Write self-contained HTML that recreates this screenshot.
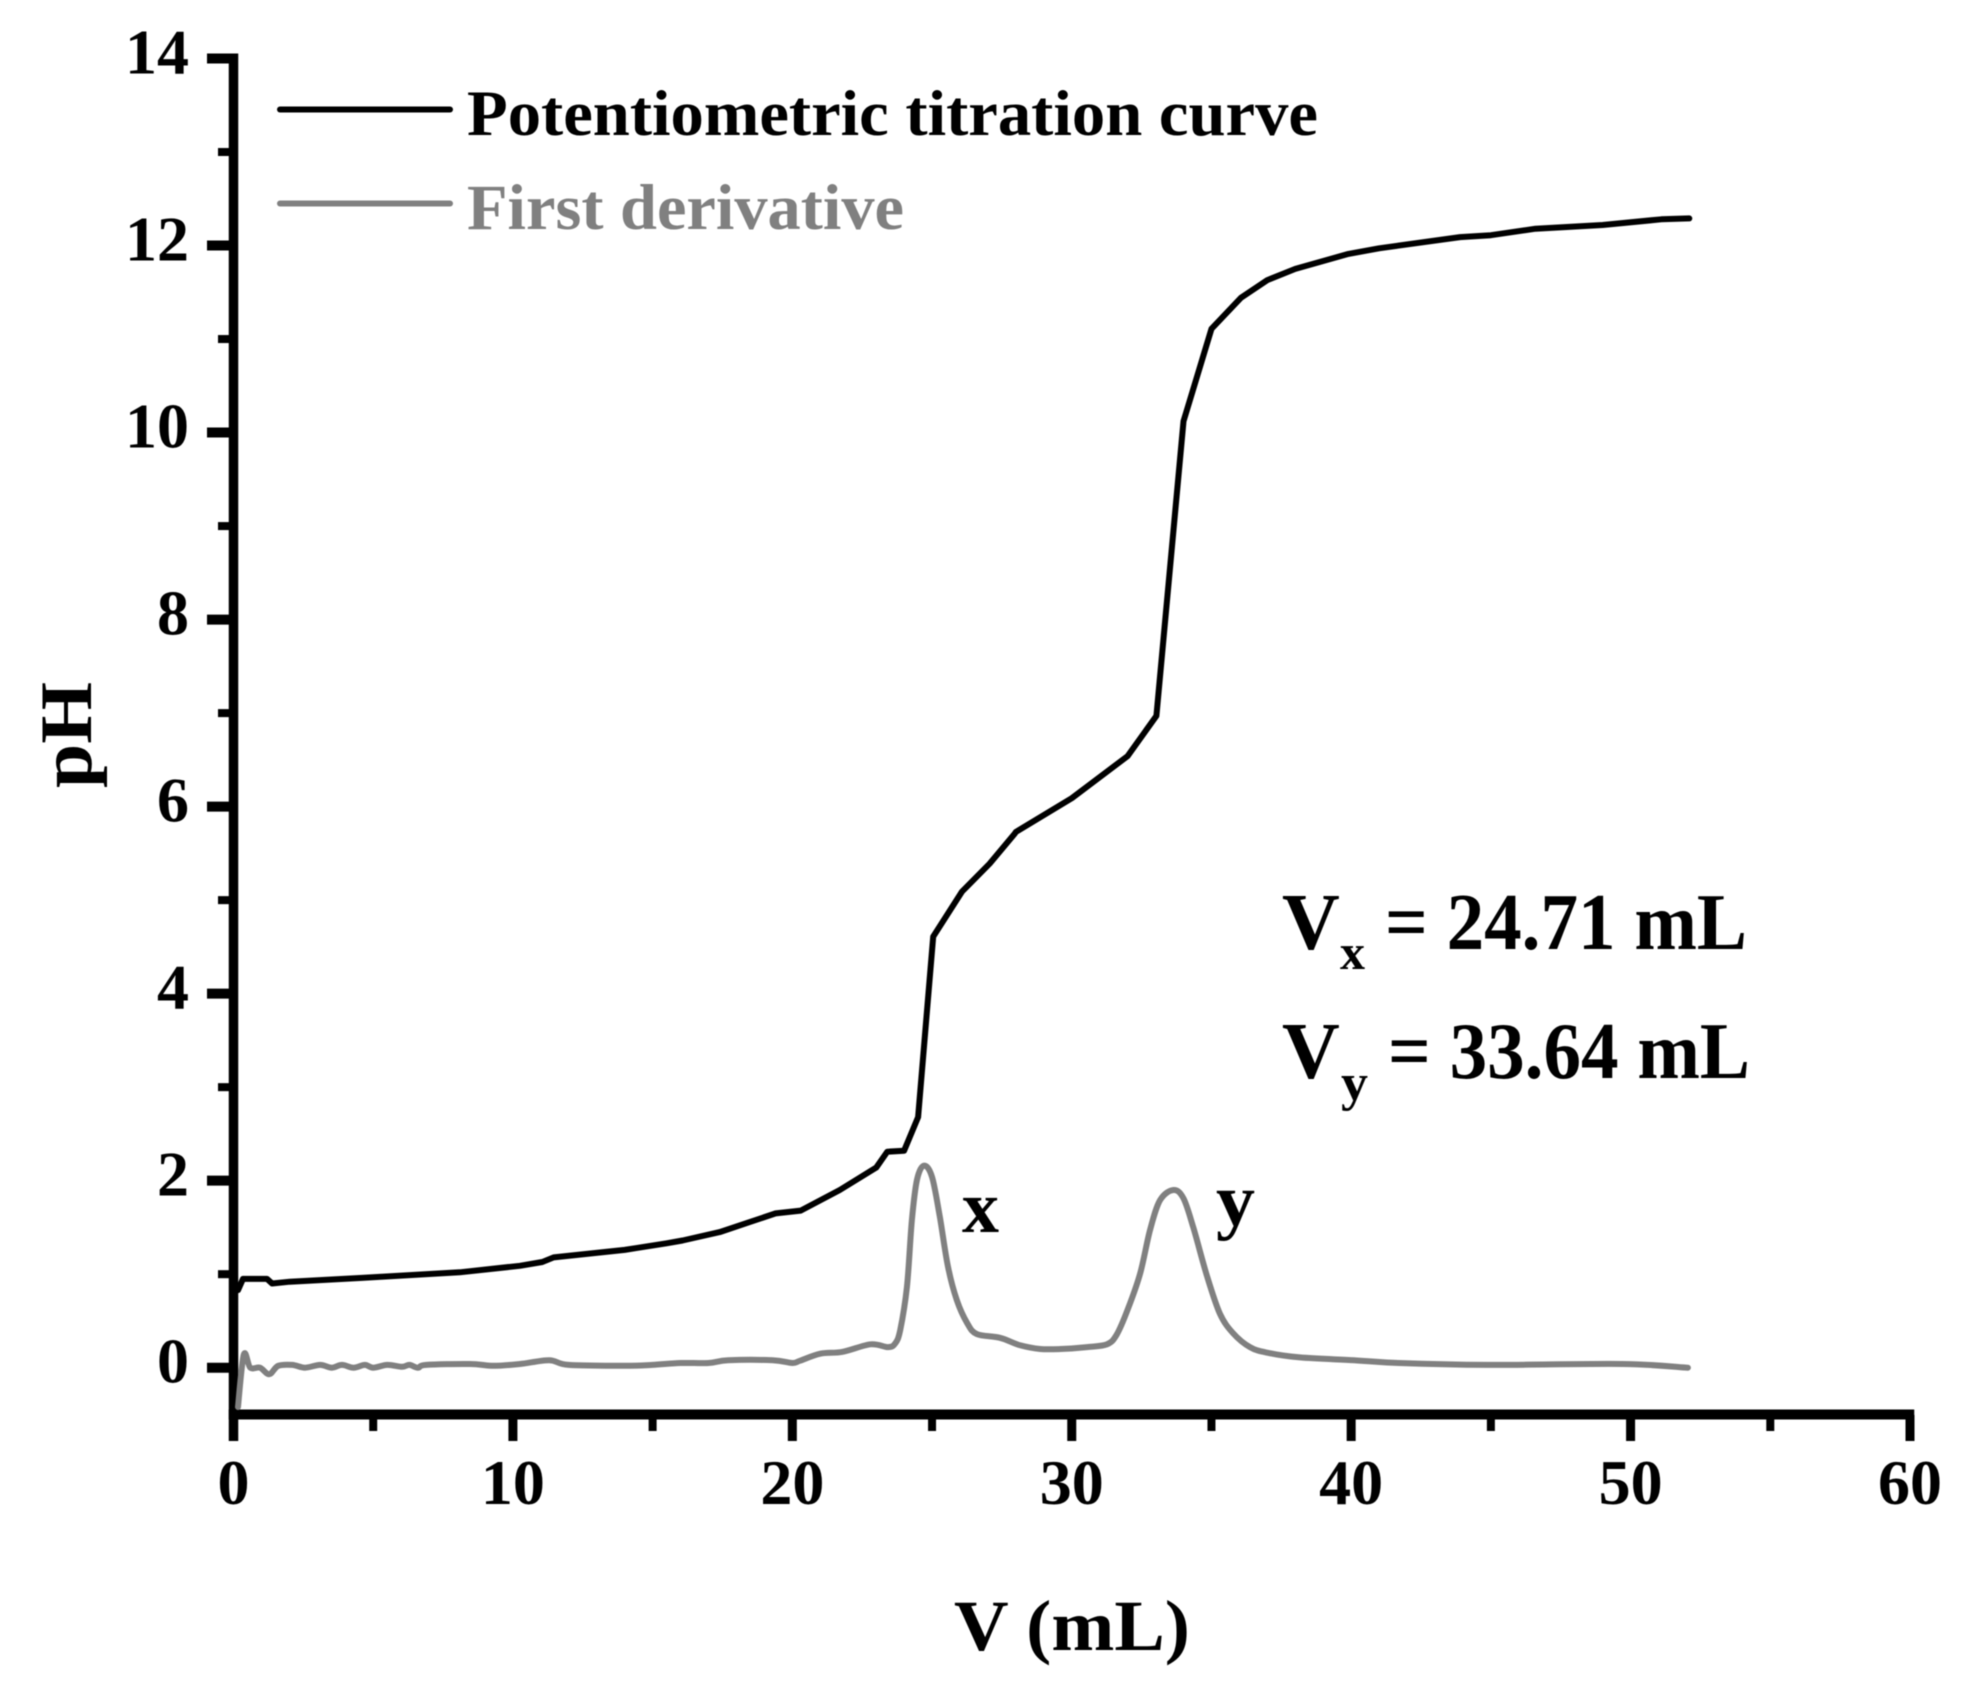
<!DOCTYPE html>
<html lang="en">
<head>
<meta charset="utf-8">
<title>Potentiometric titration curve</title>
<style>
html,body{margin:0;padding:0;background:#fff;}
svg{display:block;filter:blur(0.5px);}
text{font-family:"Liberation Serif",serif;font-weight:bold;fill:#000;}
</style>
</head>
<body>
<svg id="chart" xmlns="http://www.w3.org/2000/svg" width="1964" height="1688" viewBox="0 0 1964 1688">
  <rect x="0" y="0" width="1964" height="1688" fill="#ffffff"/>
  <g id="axes"></g>
  <g id="series"></g>

  <line x1="280" y1="109.5" x2="450" y2="109.5" stroke="#000" stroke-width="6" stroke-linecap="round"/>
  <text x="467" y="135" font-size="65" textLength="851" lengthAdjust="spacingAndGlyphs">Potentiometric titration curve</text>
  <line x1="280" y1="203.5" x2="450" y2="203.5" stroke="#808080" stroke-width="6" stroke-linecap="round"/>
  <text x="467" y="229" font-size="65" textLength="437" lengthAdjust="spacingAndGlyphs" style="fill:#808080">First derivative</text>

  <text x="1072" y="1650" font-size="72" text-anchor="middle" textLength="236" lengthAdjust="spacingAndGlyphs">V (mL)</text>
  <text transform="translate(91,735) rotate(-90)" font-size="74" text-anchor="middle" textLength="106" lengthAdjust="spacingAndGlyphs">pH</text>

  <text x="962" y="1232" font-size="74" textLength="37" lengthAdjust="spacingAndGlyphs">x</text>
  <text x="1216" y="1225" font-size="74" textLength="39" lengthAdjust="spacingAndGlyphs">y</text>

  <text x="1282" y="949" font-size="80">V</text>
  <text x="1340" y="969" font-size="50" textLength="25" lengthAdjust="spacingAndGlyphs">x</text>
  <text x="1385" y="949" font-size="80" textLength="362" lengthAdjust="spacingAndGlyphs">= 24.71 mL</text>
  <text x="1282" y="1078" font-size="80">V</text>
  <text x="1341" y="1100" font-size="52" textLength="27" lengthAdjust="spacingAndGlyphs">y</text>
  <text x="1388" y="1078" font-size="80" textLength="362" lengthAdjust="spacingAndGlyphs">= 33.64 mL</text>
</svg>

<script>
const xTickLabels = ["0", "10", "20", "30", "40", "50", "60"];
const xMinorTicks = [5, 15, 25, 35, 45, 55];
const yTickLabels = ["0", "2", "4", "6", "8", "10", "12", "14"];
const yMinorTicks = [1, 3, 5, 7, 9, 11, 13];

const titrationVolume = [0.16, 0.34, 1.2, 1.38, 2.02, 4.6, 8.1, 10.25, 11.05, 11.46, 14, 15.5, 16.07, 17.4, 18.5, 19.4, 20.3, 21.7, 23, 23.4, 24, 24.5, 25.04, 26.07, 27.06, 27.96, 28, 30, 32, 33.03, 34, 35, 36.05, 37, 38, 39.9, 41, 43.9, 45, 46.6, 49, 51.1, 52.1];
const titrationPH = [0.83, 0.95, 0.95, 0.9, 0.92, 0.96, 1.02, 1.09, 1.13, 1.18, 1.26, 1.33, 1.36, 1.45, 1.56, 1.65, 1.68, 1.9, 2.14, 2.31, 2.32, 2.68, 4.61, 5.09, 5.39, 5.71, 5.73, 6.09, 6.54, 6.97, 10.12, 11.11, 11.44, 11.63, 11.75, 11.91, 11.97, 12.09, 12.11, 12.18, 12.22, 12.28, 12.29];

const derivativeVolume = [0.16, 0.37, 0.6, 0.95, 1.28, 1.6, 2.1, 2.56, 3.1, 3.52, 3.88, 4.3, 4.7, 5, 5.5, 6.03, 6.3, 6.6, 6.9, 8.46, 9.3, 10.25, 11.3, 12, 14, 15, 16, 17, 17.7, 19.3, 20, 20.28, 21, 21.8, 22.8, 23.43, 23.68, 23.86, 24.1, 24.28, 24.46, 24.71, 25, 25.28, 25.57, 25.89, 26.25, 26.6, 27.43, 28.15, 28.87, 29.6, 30.55, 31.26, 31.6, 32, 32.45, 32.8, 33.16, 33.64, 34, 34.35, 34.85, 35.3, 35.77, 36.38, 37, 38.17, 40.1, 41.7, 44.9, 49.7, 52.05];
const derivativeValue = [-0.42, 0.14, 0, 0, -0.07, 0.02, 0.03, 0, 0.03, 0, 0.03, 0, 0.03, 0, 0.03, 0.01, 0.03, 0, 0.03, 0.04, 0.02, 0.04, 0.08, 0.03, 0.02, 0.03, 0.05, 0.05, 0.08, 0.08, 0.05, 0.075, 0.15, 0.17, 0.25, 0.22, 0.26, 0.4, 0.86, 1.58, 2.01, 2.16, 2.04, 1.61, 1.08, 0.72, 0.48, 0.36, 0.32, 0.24, 0.2, 0.2, 0.22, 0.25, 0.35, 0.62, 1.01, 1.47, 1.79, 1.9, 1.81, 1.5, 0.97, 0.58, 0.37, 0.22, 0.16, 0.11, 0.08, 0.05, 0.03, 0.04, 0];

const NS = "http://www.w3.org/2000/svg";
const axes = document.getElementById("axes");
const seriesGroup = document.getElementById("series");

function sx(v) { return 233.5 + v * (1910 - 233.5) / 60; }
function sy(v) { return 1367.7 - v * (1367.7 - 58.5) / 14; }

function makeLine(parent, x1, y1, x2, y2, width) {
  const l = document.createElementNS(NS, "line");
  l.setAttribute("x1", x1);
  l.setAttribute("y1", y1);
  l.setAttribute("x2", x2);
  l.setAttribute("y2", y2);
  l.setAttribute("stroke", "#000");
  l.setAttribute("stroke-width", width);
  parent.appendChild(l);
  return l;
}

const yAxisLine = makeLine(axes, sx(0), 53.5, sx(0), 1441, 9.5);



const xAxisLine = makeLine(axes, sx(0) - 4.75, sy(-0.5), sx(60) + 4.25, sy(-0.5), 10);



yTickLabels.forEach(function (label) {
  const v = Number(label);
  const tick = makeLine(axes, 207, sy(v), 230, sy(v), 10);
  
  
  const t = document.createElementNS(NS, "text");
  
  
  t.setAttribute("x", 189);
  t.setAttribute("y", sy(v) + 15);
  t.setAttribute("font-size", 64);
  t.setAttribute("text-anchor", "end");
  t.textContent = label;
  axes.appendChild(t);
});

yMinorTicks.forEach(function (v) {
  const tick = makeLine(axes, 218, sy(v), 230, sy(v), 8);
  
  
});

xTickLabels.forEach(function (label) {
  const v = Number(label);
  const tick = makeLine(axes, sx(v), 1415, sx(v), 1441, 9);
  
  
  const t = document.createElementNS(NS, "text");
  
  
  t.setAttribute("x", sx(v));
  t.setAttribute("y", 1504);
  t.setAttribute("font-size", 64);
  t.setAttribute("text-anchor", "middle");
  t.textContent = label;
  axes.appendChild(t);
});

xMinorTicks.forEach(function (v) {
  const tick = makeLine(axes, sx(v), 1415, sx(v), 1431, 8);
  
  
});

function buildPath(xs, ys) {
  return xs.map(function (x, i) {
    return (i ? "L" : "M") + sx(x).toFixed(1) + " " + sy(ys[i]).toFixed(1);
  }).join(" ");
}

function buildSmoothPath(xs, ys) {
  const px = xs.map(sx);
  const py = ys.map(sy);
  let d = "M" + px[0].toFixed(1) + " " + py[0].toFixed(1);
  for (let i = 0; i < px.length - 1; i++) {
    const a = Math.max(i - 1, 0);
    const b = Math.min(i + 2, px.length - 1);
    const c1x = px[i] + (px[i + 1] - px[a]) / 6;
    const c1y = py[i] + (py[i + 1] - py[a]) / 6;
    const c2x = px[i + 1] - (px[b] - px[i]) / 6;
    const c2y = py[i + 1] - (py[b] - py[i]) / 6;
    d += " C" + c1x.toFixed(1) + " " + c1y.toFixed(1) + " " + c2x.toFixed(1) + " " + c2y.toFixed(1) + " " + px[i + 1].toFixed(1) + " " + py[i + 1].toFixed(1);
  }
  return d;
}

const derivativePath = document.createElementNS(NS, "path");


derivativePath.setAttribute("d", buildSmoothPath(derivativeVolume, derivativeValue));
derivativePath.setAttribute("fill", "none");
derivativePath.setAttribute("stroke", "#808080");
derivativePath.setAttribute("stroke-width", 6);
derivativePath.setAttribute("stroke-linejoin", "round");
derivativePath.setAttribute("stroke-linecap", "round");
seriesGroup.appendChild(derivativePath);

const titrationPath = document.createElementNS(NS, "path");


titrationPath.setAttribute("d", buildPath(titrationVolume, titrationPH));
titrationPath.setAttribute("fill", "none");
titrationPath.setAttribute("stroke", "#000");
titrationPath.setAttribute("stroke-width", 6);
titrationPath.setAttribute("stroke-linejoin", "round");
titrationPath.setAttribute("stroke-linecap", "round");
seriesGroup.appendChild(titrationPath);
</script>
</body>
</html>
